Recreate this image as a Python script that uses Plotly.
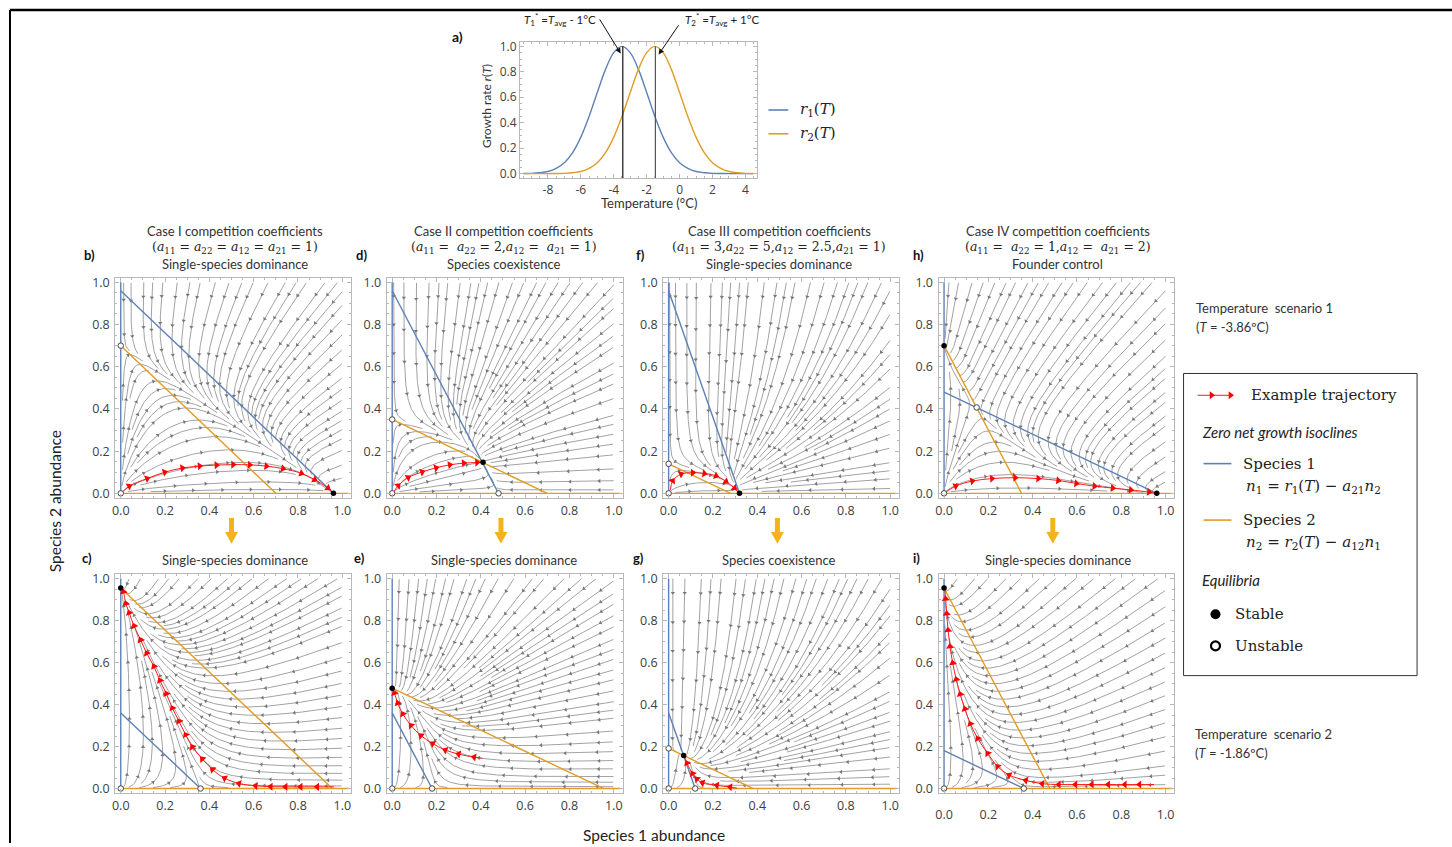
import math
import plotly.graph_objects as go

W, H = 1452, 847

# ---------------- data ----------------
temperature_c = [-9.5, -9.0, -8.5, -8.0, -7.5, -7.0, -6.5, -6.0, -5.5, -5.0, -4.5, -4.0, -3.5, -3.0,
                 -2.5, -2.0, -1.5, -1.0, -0.5, 0.0, 0.5, 1.0, 1.5, 2.0, 2.5, 3.0, 3.5, 4.0, 4.5]
r1_curve = [0.001, 0.002, 0.007, 0.017, 0.041, 0.086, 0.165, 0.287, 0.449, 0.638, 0.819, 0.951, 1.0, 0.951,
            0.819, 0.638, 0.449, 0.287, 0.165, 0.086, 0.041, 0.017, 0.007, 0.002, 0.001, 0.0, 0.0, 0.0, 0.0]
r2_curve = [0.0, 0.0, 0.0, 0.0, 0.001, 0.002, 0.007, 0.017, 0.041, 0.086, 0.165, 0.287, 0.449, 0.638,
            0.819, 0.951, 1.0, 0.951, 0.819, 0.638, 0.449, 0.287, 0.165, 0.086, 0.041, 0.017, 0.007, 0.002, 0.001]
t1_star_c = -3.45
t2_star_c = -1.47
temp_ticks = [-8, -6, -4, -2, 0, 2, 4]
unit_ticks = [0.0, 0.2, 0.4, 0.6, 0.8, 1.0]

scenario_T = [-3.86, -1.86]
r1_at_T = [0.96, 0.36]
r2_at_T = [0.70, 0.955]

a11 = [1, 2, 3, 1]
a22 = [1, 2, 5, 1]
a12 = [1, 1, 2.5, 2]
a21 = [1, 1, 1, 2]

case_titles = ["Case I competition coefficients", "Case II competition coefficients",
               "Case III competition coefficients", "Case IV competition coefficients"]
outcome_row1 = ["Single-species dominance", "Species coexistence", "Single-species dominance", "Founder control"]
outcome_row2 = ["Single-species dominance", "Single-species dominance", "Species coexistence", "Single-species dominance"]
letters_row1 = ["b)", "d)", "f)", "h)"]
letters_row2 = ["c)", "e)", "g)", "i)"]

# example trajectories (n1, n2)
traj_b_n1 = [0.008, 0.038, 0.119, 0.198, 0.278, 0.356, 0.432, 0.507, 0.582, 0.657, 0.732, 0.815, 0.875, 0.935, 0.958]
traj_b_n2 = [0.006, 0.034, 0.070, 0.100, 0.120, 0.129, 0.134, 0.136, 0.135, 0.129, 0.117, 0.095, 0.065, 0.025, 0.003]
traj_d_n1 = [0.008, 0.027, 0.072, 0.135, 0.198, 0.260, 0.323, 0.383, 0.410]
traj_d_n2 = [0.009, 0.036, 0.075, 0.101, 0.121, 0.135, 0.143, 0.146, 0.147]
traj_f_n1 = [0.008, 0.018, 0.056, 0.109, 0.161, 0.214, 0.259, 0.297, 0.318]
traj_f_n2 = [0.016, 0.059, 0.091, 0.098, 0.094, 0.083, 0.056, 0.025, 0.002]
traj_h_n1 = [0.004, 0.052, 0.127, 0.216, 0.321, 0.425, 0.515, 0.597, 0.679, 0.761, 0.843, 0.925, 0.955]
traj_h_n2 = [0.003, 0.034, 0.058, 0.070, 0.074, 0.070, 0.061, 0.047, 0.034, 0.025, 0.016, 0.006, 0.001]
traj_c_n1 = [0.962, 0.887, 0.812, 0.744, 0.677, 0.609, 0.534, 0.469, 0.414, 0.368, 0.323, 0.293, 0.263, 0.233,
             0.206, 0.177, 0.150, 0.117, 0.090, 0.060, 0.038, 0.023, 0.012, 0.004]
traj_c_n2 = [0.008, 0.008, 0.008, 0.008, 0.009, 0.013, 0.024, 0.049, 0.090, 0.141, 0.198, 0.256, 0.320, 0.383,
             0.451, 0.514, 0.581, 0.644, 0.707, 0.774, 0.837, 0.881, 0.937, 0.955]
traj_e_n1 = [0.408, 0.370, 0.300, 0.240, 0.183, 0.130, 0.085, 0.048, 0.025, 0.0105, 0.003]
traj_e_n2 = [0.144, 0.149, 0.164, 0.183, 0.214, 0.252, 0.300, 0.355, 0.407, 0.454, 0.476]
traj_g_n1 = [0.308, 0.278, 0.218, 0.153, 0.128, 0.108, 0.083, 0.068]
traj_g_n2 = [0.002, 0.007, 0.015, 0.027, 0.045, 0.071, 0.121, 0.157]
traj_i_n1 = [0.948, 0.882, 0.816, 0.741, 0.667, 0.593, 0.518, 0.443, 0.369, 0.294, 0.242, 0.197, 0.152, 0.119,
             0.094, 0.073, 0.055, 0.039, 0.027, 0.018, 0.012, 0.007, 0.003]
traj_i_n2 = [0.019, 0.019, 0.019, 0.019, 0.019, 0.019, 0.019, 0.023, 0.039, 0.064, 0.105, 0.167, 0.238, 0.308,
             0.379, 0.449, 0.520, 0.598, 0.676, 0.754, 0.833, 0.903, 0.955]

# equilibria (n1, n2)
stable_b_n1, stable_b_n2 = [0.96], [0.0]
unstable_b_n1, unstable_b_n2 = [0.0, 0.0], [0.0, 0.70]
stable_d_n1, stable_d_n2 = [0.41], [0.147]
unstable_d_n1, unstable_d_n2 = [0.0, 0.0, 0.48], [0.0, 0.35, 0.0]
stable_f_n1, stable_f_n2 = [0.32], [0.0]
unstable_f_n1, unstable_f_n2 = [0.0, 0.0], [0.0, 0.14]
stable_h_n1, stable_h_n2 = [0.0, 0.96], [0.70, 0.0]
unstable_h_n1, unstable_h_n2 = [0.0, 0.147], [0.0, 0.407]
stable_c_n1, stable_c_n2 = [0.0], [0.955]
unstable_c_n1, unstable_c_n2 = [0.0, 0.36], [0.0, 0.0]
stable_e_n1, stable_e_n2 = [0.0], [0.4775]
unstable_e_n1, unstable_e_n2 = [0.0, 0.18], [0.0, 0.0]
stable_g_n1, stable_g_n2 = [0.068], [0.157]
unstable_g_n1, unstable_g_n2 = [0.0, 0.0, 0.12], [0.0, 0.191, 0.0]
stable_i_n1, stable_i_n2 = [0.0], [0.955]
unstable_i_n1, unstable_i_n2 = [0.0, 0.36], [0.0, 0.0]

# ---------------- styling ----------------
SANS = "Lato, 'Open Sans', sans-serif"
TICKF = "'Open Sans', Lato, sans-serif"
SERIF = "'DejaVu Serif', serif"
BLUE = "#5E81B5"
ORANGE = "#E19C24"
FRAME = "#b8b8b8"
TICKC = "#404040"
GOLD = "#F5B21B"

XR = [-0.025, 1.04]
YR = [-0.02, 1.02]
UX = 222.0
COL_X0 = [118, 390, 667, 943]
ROW_Y1 = [281, 580]
UY = [213.0, 212.0]


def xdom(a, b):
    return [a / W, b / W]


def ydom(top, bottom):
    return [1 - bottom / H, 1 - top / H]


def minor_vals(lo, hi, step):
    n = int(round((hi - lo) / step))
    return [round(lo + k * step, 4) for k in range(n + 1)]


fig = go.Figure()
layout = dict(width=W, height=H, margin=dict(l=0, r=0, t=0, b=0), paper_bgcolor="white",
              plot_bgcolor="rgba(0,0,0,0)", showlegend=False)
annotations = []
shapes = []


def frame_axis(size=12.5, **kw):
    d = dict(showline=True, linecolor=FRAME, linewidth=1, mirror="allticks", ticks="inside", ticklen=4,
             tickcolor=FRAME, showgrid=False, zeroline=False, fixedrange=True,
             tickfont=dict(family=TICKF, size=size, color=TICKC))
    d.update(kw)
    return d


def text(x, y, s, size=13, family=SANS, color="#333333", anchor="center", angle=0):
    annotations.append(dict(x=x, y=y, xref="x10", yref="y10", text=s, showarrow=False, xanchor=anchor,
                            yanchor="middle", textangle=angle, font=dict(size=size, family=family, color=color)))


# ---------------- panel a ----------------
layout["xaxis"] = frame_axis(size=12, domain=xdom(518, 756), range=[-9.7, 4.73], anchor="y",
                             tickvals=temp_ticks, ticktext=[str(t) for t in temp_ticks],
                             minor=dict(ticks="inside", ticklen=2, tickcolor=FRAME,
                                        tickvals=minor_vals(-9.5, 4.5, 0.5)))
layout["yaxis"] = frame_axis(size=12, domain=ydom(38, 176), range=[-0.037, 1.037], anchor="x",
                             tickvals=unit_ticks, ticktext=["%.1f" % t for t in unit_ticks],
                             minor=dict(ticks="inside", ticklen=2, tickcolor=FRAME,
                                        tickvals=minor_vals(0, 1, 0.05)))
fig.add_trace(go.Scatter(x=temperature_c, y=r1_curve, mode="lines", line=dict(color=BLUE, width=1.4, shape="spline"),
                         xaxis="x", yaxis="y", hoverinfo="skip"))
fig.add_trace(go.Scatter(x=temperature_c, y=r2_curve, mode="lines", line=dict(color=ORANGE, width=1.4, shape="spline"),
                         xaxis="x", yaxis="y", hoverinfo="skip"))
for tv, col in ((t1_star_c, "#111111"), (t2_star_c, "#555555")):
    fig.add_trace(go.Scatter(x=[tv, tv], y=[-0.037, 1.0], mode="lines", line=dict(color=col, width=1.2),
                             xaxis="x", yaxis="y", hoverinfo="skip"))

text(455, 33, "<b>a)</b>", size=14, color="#111")
text(558, 16, "<i>T</i><sub>1</sub><sup>*</sup> =<i>T</i><sub>avg</sub> - 1°C", size=11.5, color="#222")
text(720, 16, "<i>T</i><sub>2</sub><sup>*</sup> =<i>T</i><sub>avg</sub> + 1°C", size=11.5, color="#222")
for (hx, hy, tx, ty) in ((619, 50, 597, 14), (657, 51, 678, 20)):
    annotations.append(dict(x=hx, y=hy, ax=tx, ay=ty, xref="x10", yref="y10", axref="x10", ayref="y10",
                            text="", showarrow=True, arrowhead=2, arrowsize=1.1, arrowwidth=1, arrowcolor="#111"))
text(484, 103, "Growth rate <i>r</i>(<i>T</i>)", size=12, color="#333", angle=-90)
text(647, 201, "Temperature (°C)", size=13, color="#333")

# ---------------- streamlines ----------------
def stream_lines(r1, r2, b11, b22, b12, b21, dsep=0.037, dtest=0.016, h=0.004, maxlen=1.8, minlen=0.05):
    cell = dtest
    grid = {}

    def unit(x, y):
        u = x * (r1 - b11 * x - b21 * y)
        v = y * (r2 - b22 * y - b12 * x)
        n = math.hypot(u, v)
        if n < 1e-9:
            return None
        return (u / n, v / n)

    def near(x, y, d):
        k = int(math.ceil(d / cell))
        ci, cj = int(math.floor(x / cell)), int(math.floor(y / cell))
        d2 = d * d
        for i in range(ci - k, ci + k + 1):
            for j in range(cj - k, cj + k + 1):
                pts = grid.get((i, j))
                if pts:
                    for qx, qy in pts:
                        if (qx - x) * (qx - x) + (qy - y) * (qy - y) < d2:
                            return True
        return False

    def run(x, y, sgn):
        out = []
        prev = None
        for _ in range(int(maxlen / h)):
            d1 = unit(x, y)
            if d1 is None:
                break
            d2 = unit(x + sgn * 0.5 * h * d1[0], y + sgn * 0.5 * h * d1[1])
            if d2 is None:
                break
            if prev is not None and d2[0] * prev[0] + d2[1] * prev[1] < 0.7:
                break
            nx, ny = x + sgn * h * d2[0], y + sgn * h * d2[1]
            if nx < 0.004 or nx > 1.0 or ny < 0.004 or ny > 1.0:
                break
            if near(nx, ny, dtest):
                break
            out.append((nx, ny))
            prev = d2
            x, y = nx, ny
        return out

    lines = []
    for spacing in (dsep, dsep / 2):
        n = int(round(1 / spacing))
        for j in range(n):
            for i in range(n):
                sx = (i + 0.5) * spacing
                sy = (j + 0.5) * spacing
                if near(sx, sy, dsep * 0.95):
                    continue
                back = run(sx, sy, -1)
                fwd = run(sx, sy, 1)
                pts = back[::-1] + [(sx, sy)] + fwd
                if (len(pts) - 1) * h < minlen:
                    continue
                lines.append(pts)
                for q in pts[::3]:
                    grid.setdefault((int(math.floor(q[0] / cell)), int(math.floor(q[1] / cell))), []).append(q)
    return lines


def screen_angle(dx, dy, uy):
    return math.degrees(math.atan2(dx * UX, dy * uy))


panels = [
    ("b", 0, 0, traj_b_n1, traj_b_n2, stable_b_n1, stable_b_n2, unstable_b_n1, unstable_b_n2),
    ("d", 0, 1, traj_d_n1, traj_d_n2, stable_d_n1, stable_d_n2, unstable_d_n1, unstable_d_n2),
    ("f", 0, 2, traj_f_n1, traj_f_n2, stable_f_n1, stable_f_n2, unstable_f_n1, unstable_f_n2),
    ("h", 0, 3, traj_h_n1, traj_h_n2, stable_h_n1, stable_h_n2, unstable_h_n1, unstable_h_n2),
    ("c", 1, 0, traj_c_n1, traj_c_n2, stable_c_n1, stable_c_n2, unstable_c_n1, unstable_c_n2),
    ("e", 1, 1, traj_e_n1, traj_e_n2, stable_e_n1, stable_e_n2, unstable_e_n1, unstable_e_n2),
    ("g", 1, 2, traj_g_n1, traj_g_n2, stable_g_n1, stable_g_n2, unstable_g_n1, unstable_g_n2),
    ("i", 1, 3, traj_i_n1, traj_i_n2, stable_i_n1, stable_i_n2, unstable_i_n1, unstable_i_n2),
]

for k, (name, row, col, tx, ty, sx_, sy_, ux_, uy_) in enumerate(panels):
    ax_id = k + 2
    xa, ya = "x%d" % ax_id, "y%d" % ax_id
    x0 = COL_X0[col]
    y1 = ROW_Y1[row]
    uy = UY[row]
    left = x0 + XR[0] * UX
    right = x0 + XR[1] * UX
    top = y1 - (YR[1] - 1) * uy
    bottom = y1 + (1 - YR[0]) * uy
    layout["xaxis%d" % ax_id] = frame_axis(domain=xdom(left, right), range=XR, anchor=ya,
                                           tickvals=unit_ticks, ticktext=["%.1f" % t for t in unit_ticks],
                                           ticklabelstandoff=(10 if name == "i" else 1),
                                           minor=dict(ticks="inside", ticklen=2, tickcolor=FRAME,
                                                      tickvals=minor_vals(0, 1, 0.05)))
    layout["yaxis%d" % ax_id] = frame_axis(domain=ydom(top, bottom), range=YR, anchor=xa,
                                           tickvals=unit_ticks, ticktext=["%.1f" % t for t in unit_ticks],
                                           ticklabelstandoff=2,
                                           minor=dict(ticks="inside", ticklen=2, tickcolor=FRAME,
                                                      tickvals=minor_vals(0, 1, 0.05)))
    r1 = r1_at_T[row]
    r2 = r2_at_T[row]
    lines = stream_lines(r1, r2, a11[col], a22[col], a12[col], a21[col])
    lx, ly = [], []
    axx, axy, ang = [], [], []
    for pts in lines:
        sub = pts[::2]
        if sub[-1] != pts[-1]:
            sub.append(pts[-1])
        lx += [p[0] for p in sub] + [None]
        ly += [p[1] for p in sub] + [None]
        L = (len(pts) - 1) * 0.004
        na = max(1, int(L / 0.14 + 0.5))
        for m in range(na):
            idx = int((m + 0.5) * (len(pts) - 1) / na)
            i0, i1 = max(0, idx - 1), min(len(pts) - 1, idx + 1)
            dx = pts[i1][0] - pts[i0][0]
            dy = pts[i1][1] - pts[i0][1]
            axx.append(pts[idx][0])
            axy.append(pts[idx][1])
            ang.append(screen_angle(dx, dy, uy))
    fig.add_trace(go.Scatter(x=lx, y=ly, mode="lines", line=dict(color="#a2a2a2", width=1),
                             xaxis=xa, yaxis=ya, hoverinfo="skip"))
    fig.add_trace(go.Scatter(x=axx, y=axy, mode="markers",
                             marker=dict(symbol="triangle-up", size=3.8, color="#777777", angle=ang, line=dict(width=0)),
                             xaxis=xa, yaxis=ya, hoverinfo="skip"))
    # isoclines
    b_y = r1 / a21[col]
    b_x = r1 / a11[col]
    o_y = r2 / a22[col]
    o_x = r2 / a12[col]
    fig.add_trace(go.Scatter(x=[0, 0, None, 0, b_x], y=[0, 1.0, None, b_y, 0], mode="lines",
                             line=dict(color=BLUE, width=1.4), xaxis=xa, yaxis=ya, hoverinfo="skip"))
    fig.add_trace(go.Scatter(x=[0, 1.03, None, 0, o_x], y=[0, 0, None, o_y, 0], mode="lines",
                             line=dict(color=ORANGE, width=1.4), xaxis=xa, yaxis=ya, hoverinfo="skip"))
    # example trajectory
    fig.add_trace(go.Scatter(x=tx, y=ty, mode="lines", line=dict(color="#ff1a1a", width=1, shape="spline"),
                             xaxis=xa, yaxis=ya, hoverinfo="skip"))
    rang = []
    for i in range(1, len(tx) - 1):
        rang.append(screen_angle(tx[i + 1] - tx[i - 1], ty[i + 1] - ty[i - 1], uy))
    fig.add_trace(go.Scatter(x=tx[1:-1], y=ty[1:-1], mode="markers",
                             marker=dict(symbol="triangle-up", size=7, color="#ff0000", angle=rang, line=dict(width=0)),
                             xaxis=xa, yaxis=ya, hoverinfo="skip"))
    # equilibria
    fig.add_trace(go.Scatter(x=ux_, y=uy_, mode="markers",
                             marker=dict(symbol="circle", size=5.5, color="white", line=dict(color="#444", width=1)),
                             xaxis=xa, yaxis=ya, hoverinfo="skip", cliponaxis=False))
    fig.add_trace(go.Scatter(x=sx_, y=sy_, mode="markers",
                             marker=dict(symbol="circle", size=5.5, color="black", line=dict(width=0)),
                             xaxis=xa, yaxis=ya, hoverinfo="skip", cliponaxis=False))

# ---------------- overlay pixel axis ----------------
layout["xaxis10"] = dict(domain=[0, 1], range=[0, W], visible=False, fixedrange=True, anchor="y10")
layout["yaxis10"] = dict(domain=[0, 1], range=[H, 0], visible=False, fixedrange=True, anchor="x10")


def coef(i):
    A = lambda s: "<i>a</i><sub>%s</sub>" % s
    if i == 0:
        return "(" + A("11") + " = " + A("22") + " = " + A("12") + " = " + A("21") + " = 1)"
    if i == 1:
        return "(" + A("11") + " =  " + A("22") + " = 2," + A("12") + " =  " + A("21") + " = 1)"
    if i == 2:
        return "(" + A("11") + " = 3," + A("22") + " = 5," + A("12") + " = 2.5," + A("21") + " = 1)"
    return "(" + A("11") + " =  " + A("22") + " = 1," + A("12") + " =  " + A("21") + " = 2)"


title_cx = [232, 502, 778, 1057]
letter_x1 = [87, 359, 639, 917]
letter_x2 = [84, 357, 637, 915]
for c in range(4):
    text(title_cx[c], 229, case_titles[c], size=13, color="#333")
    text(title_cx[c], 246, coef(c), size=12.5, family=SERIF, color="#222")
    text(title_cx[c], 262, outcome_row1[c], size=13, color="#333")
    text(title_cx[c], 561, outcome_row2[c], size=13, color="#333")
    text(letter_x1[c], 253, "<b>%s</b>" % letters_row1[c], size=13, color="#111")
    text(letter_x2[c], 559, "<b>%s</b>" % letters_row2[c], size=13, color="#111")

# golden down arrows
for cx in (229, 499, 776, 1052):
    shapes.append(dict(type="path", xref="x10", yref="y10",
                       path="M %f,519 L %f,519 L %f,533 L %f,533 L %f,545 L %f,533 L %f,533 Z"
                            % (cx - 2.5, cx + 2.5, cx + 2.5, cx + 6.5, cx, cx - 6.5, cx - 2.5),
                       fillcolor=GOLD, line=dict(width=0)))

# axis titles
text(52, 502, "Species 2 abundance", size=15.5, color="#222", angle=-90)
text(652, 839, "Species 1 abundance", size=15.5, color="#222")

# scenarios
text(1193, 307, "Temperature  scenario 1", size=13, color="#333", anchor="left")
text(1193, 326, "(<i>T</i> = -3.86ºC)", size=13, color="#333", anchor="left")
text(1192, 737, "Temperature  scenario 2", size=13, color="#333", anchor="left")
text(1192, 756, "(<i>T</i> = -1.86ºC)", size=13, color="#333", anchor="left")

# outer frame lines
shapes.append(dict(type="line", xref="x10", yref="y10", x0=7, x1=7, y0=6, y1=H, line=dict(color="black", width=2)))
shapes.append(dict(type="line", xref="x10", yref="y10", x0=7, x1=W, y0=6, y1=6, line=dict(color="black", width=2.5)))

# panel a legend
fig.add_trace(go.Scatter(x=[767, 787], y=[107, 107], mode="lines", line=dict(color=BLUE, width=1.6),
                         xaxis="x10", yaxis="y10", hoverinfo="skip"))
fig.add_trace(go.Scatter(x=[767, 787], y=[131, 131], mode="lines", line=dict(color=ORANGE, width=1.6),
                         xaxis="x10", yaxis="y10", hoverinfo="skip"))
text(797, 107, "<i>r</i><sub>1</sub>(<i>T</i>)", size=15, family=SERIF, color="#222", anchor="left")
text(797, 131, "<i>r</i><sub>2</sub>(<i>T</i>)", size=15, family=SERIF, color="#222", anchor="left")

# main legend box
shapes.append(dict(type="rect", xref="x10", yref="y10", x0=1183, x1=1417, y0=373, y1=678,
                   line=dict(color="#333", width=1), fillcolor="rgba(0,0,0,0)"))
fig.add_trace(go.Scatter(x=[1197, 1232], y=[395, 395], mode="lines", line=dict(color="#ff1a1a", width=1),
                         xaxis="x10", yaxis="y10", hoverinfo="skip"))
fig.add_trace(go.Scatter(x=[1211, 1230], y=[395, 395], mode="markers",
                         marker=dict(symbol="triangle-up", size=7, color="#ff0000", angle=[90, 90]),
                         xaxis="x10", yaxis="y10", hoverinfo="skip"))
text(1249, 395, "Example trajectory", size=15, family=SERIF, color="#222", anchor="left")
text(1199, 432, "<i>Zero net growth isoclines</i>", size=15, color="#222", anchor="left")
fig.add_trace(go.Scatter(x=[1203, 1231], y=[464, 464], mode="lines", line=dict(color=BLUE, width=1.6),
                         xaxis="x10", yaxis="y10", hoverinfo="skip"))
text(1241, 464, "Species 1", size=15, family=SERIF, color="#222", anchor="left")
text(1244, 487, "<i>n</i><sub>1</sub> = <i>r</i><sub>1</sub>(<i>T</i>) − <i>a</i><sub>21</sub><i>n</i><sub>2</sub>",
     size=15, family=SERIF, color="#222", anchor="left")
fig.add_trace(go.Scatter(x=[1203, 1231], y=[521, 521], mode="lines", line=dict(color=ORANGE, width=1.6),
                         xaxis="x10", yaxis="y10", hoverinfo="skip"))
text(1241, 521, "Species 2", size=15, family=SERIF, color="#222", anchor="left")
text(1244, 544, "<i>n</i><sub>2</sub> = <i>r</i><sub>2</sub>(<i>T</i>) − <i>a</i><sub>12</sub><i>n</i><sub>1</sub>",
     size=15, family=SERIF, color="#222", anchor="left")
text(1199, 581, "<i>Equilibria</i>", size=15, color="#222", anchor="left")
fig.add_trace(go.Scatter(x=[1215], y=[616], mode="markers", marker=dict(symbol="circle", size=10, color="black"),
                         xaxis="x10", yaxis="y10", hoverinfo="skip"))
fig.add_trace(go.Scatter(x=[1215], y=[648], mode="markers",
                         marker=dict(symbol="circle", size=9, color="white", line=dict(color="black", width=2.2)),
                         xaxis="x10", yaxis="y10", hoverinfo="skip"))
text(1233, 616, "Stable", size=15, family=SERIF, color="#222", anchor="left")
text(1233, 648, "Unstable", size=15, family=SERIF, color="#222", anchor="left")

layout["annotations"] = annotations
layout["shapes"] = shapes
fig.update_layout(**layout)
fig.write_html("out.html", include_plotlyjs=True, full_html=True, config={"displayModeBar": False})
